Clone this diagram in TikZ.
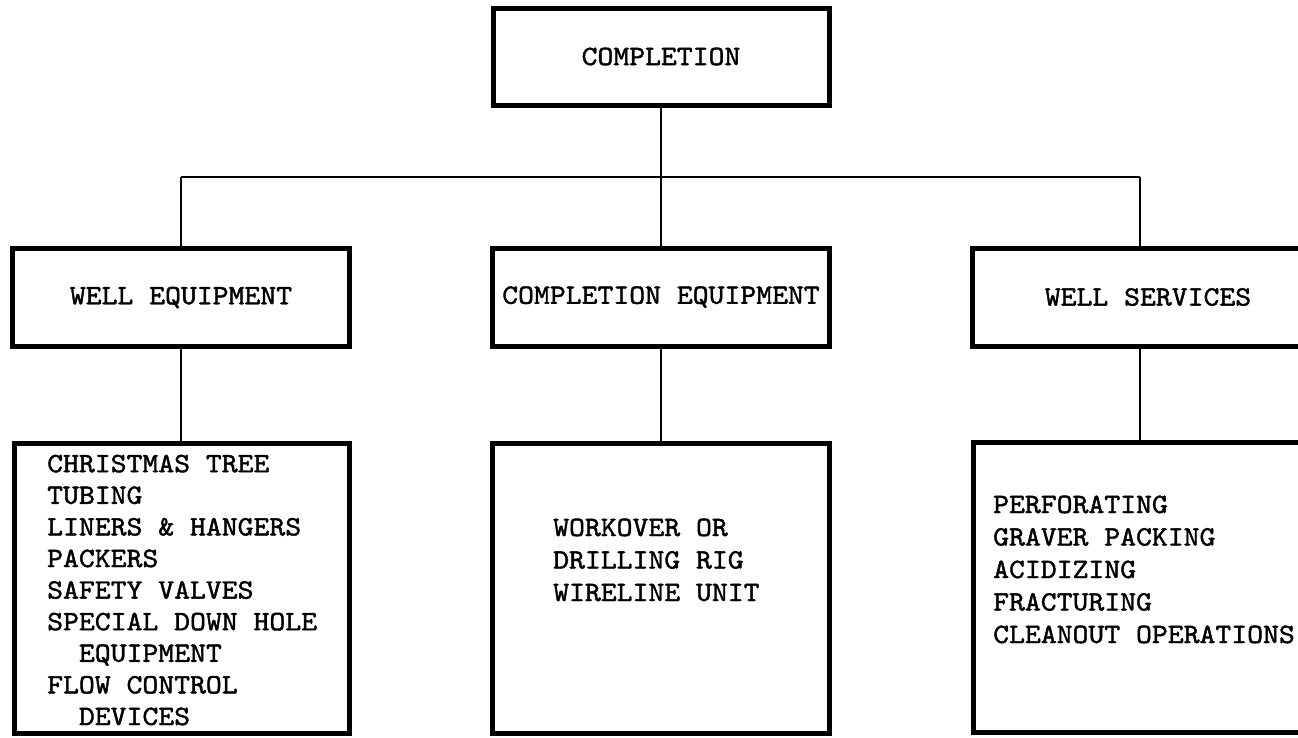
\documentclass[tikz,border=0pt]{standalone}
\usepackage{fontspec}
\newfontfamily\tw{lmmono10-regular.otf}[FakeStretch=1.08,FakeBold=1.5]
\begin{document}
\begin{tikzpicture}[x=1pt,y=-1pt,
  box/.style={draw, line width=5pt, inner sep=0pt, minimum width=#1},
  box/.default=337pt,
  head/.style={minimum height=98pt},
  tall/.style={minimum height=290pt},
  link/.style={line width=2.8pt},
  list/.style={anchor=base west, inner sep=0pt, align=left},
  every node/.style={font=\tw\fontsize{28}{31.6}\selectfont}]
\useasboundingbox (0,0) rectangle (1298,737);
\clip (0,0) rectangle (1298,737);

% top level
\node[box=336pt, minimum height=97pt] (top) at (661,56.5) {COMPLETION};

% second level
\node[box, head] (we) at (181,297.5) {WELL EQUIPMENT};
\node[box, head] (ce) at (661,297) {COMPLETION EQUIPMENT};
\node[box=352pt, head] (ws) at (1148,297) {WELL SERVICES};

% third level
\node[box=335pt, tall] (lwe) at (181.5,588.5) {};
\node[box, tall] (lce) at (661,588) {};
\node[box=352pt, tall] (lws) at (1149,587.5) {};

% item lists (anchored at the baseline of their last line)
\node[list] (twe) at (47,725) {CHRISTMAS TREE\\TUBING\\LINERS \& HANGERS\\PACKERS\\SAFETY VALVES\\SPECIAL DOWN HOLE\\\phantom{XX}EQUIPMENT\\FLOW CONTROL\\\phantom{XX}DEVICES};
\node[list, font=\tw\fontsize{28}{32.5}\selectfont] (tce) at (553,601) {WORKOVER OR\\DRILLING RIG\\WIRELINE UNIT};
\node[list, font=\tw\fontsize{28}{32.5}\selectfont] (tws) at (993,643) {PERFORATING\\GRAVER PACKING\\ACIDIZING\\FRACTURING\\CLEANOUT OPERATIONS};

% connectors
\coordinate (busL) at (181,177);
\coordinate (busR) at (1140,177);
\draw[link] (busL) -- (busR);
\draw[link] (top.south) -- (ce.north);
\draw[link] (busL) -- (busL |- we.north);
\draw[link] (busR) -- (busR |- ws.north);
\draw[link] (we.south) -- (lwe.north -| we.south);
\draw[link] (ce.south) -- (lce.north);
\draw[link] (busR |- ws.south) -- (busR |- lws.north);
\end{tikzpicture}
\end{document}
